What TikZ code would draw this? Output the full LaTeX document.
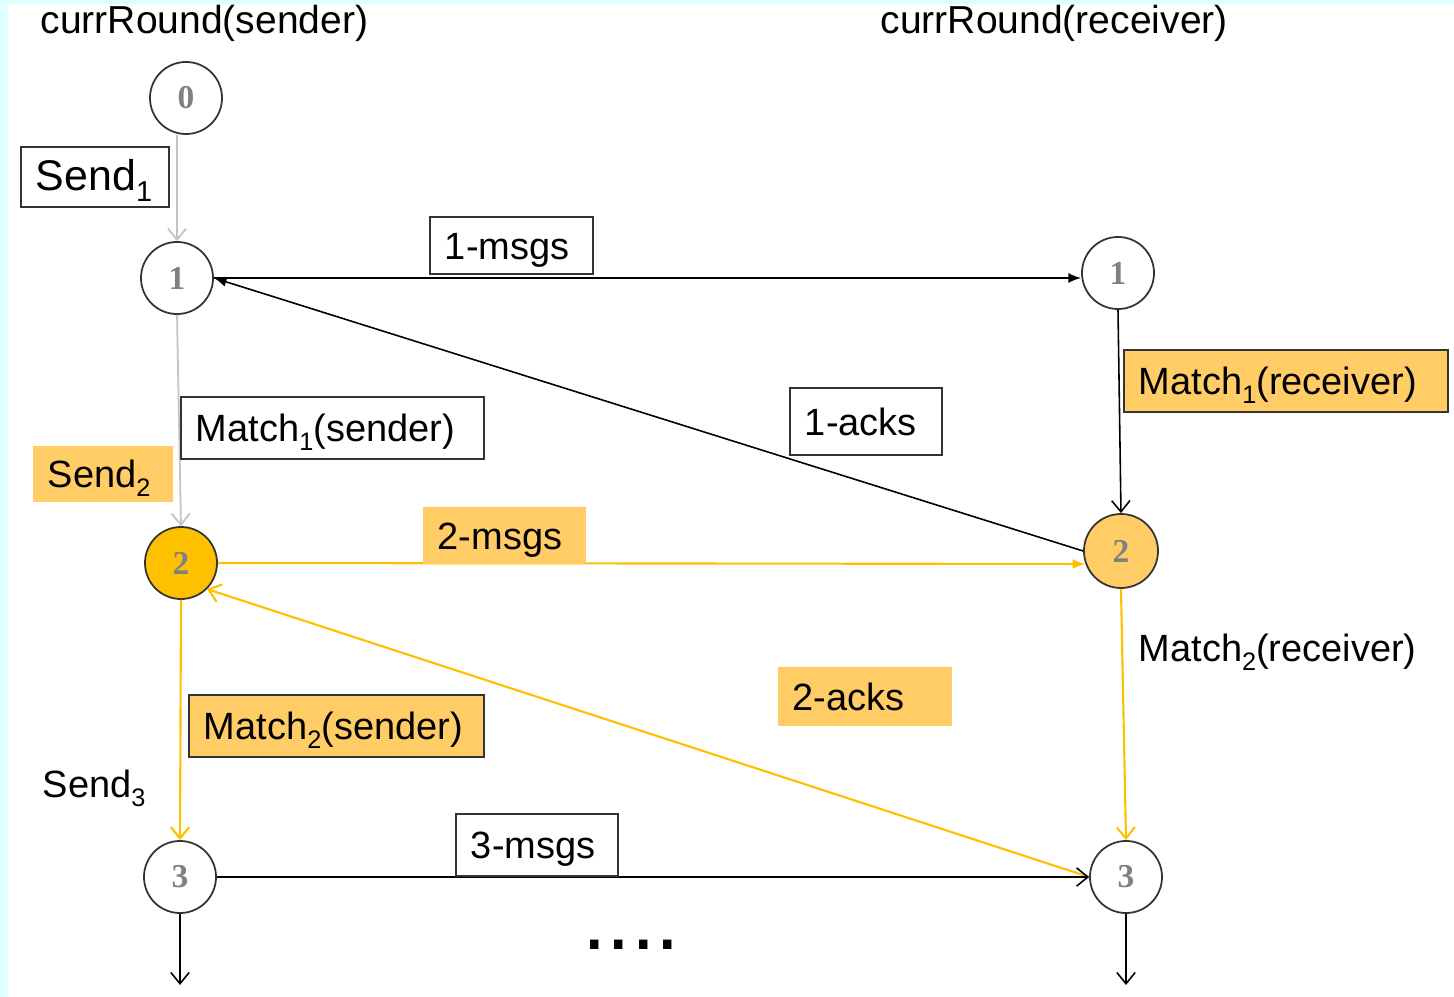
\documentclass[tikz,border=0pt]{standalone}
\usepackage{fontspec}
\setmainfont{Liberation Sans}
\newfontfamily\numfont{Liberation Serif}
\usetikzlibrary{arrows.meta}
\definecolor{gold}{HTML}{FFC000}
\definecolor{paleGold}{HTML}{FFCC66}
\definecolor{edgeGray}{HTML}{C4C4C4}
\definecolor{frameCyan}{HTML}{E0FFFF}
\definecolor{numGray}{HTML}{808080}
\newcommand\lowidx[1]{\raisebox{-0.45ex}{\fontsize{7.2}{8}\selectfont #1}}
\begin{document}
\begin{tikzpicture}[x=0.01cm,y=-0.01cm,
  lbl/.style={font=\fontsize{10.8}{13}\selectfont},
  round/.style={circle, draw=black!80, line width=0.5pt, minimum size=0.72cm,
    inner sep=0, font=\numfont\bfseries\fontsize{9.5}{11}\selectfont, text=numGray},
  tagbox/.style={rectangle, anchor=north west, inner xsep=0.15cm, inner ysep=0,
    align=left, text height=0.8em, text depth=0pt, lbl},
  framed/.style={tagbox, draw=black!80, line width=0.5pt},
  plain/.style={anchor=west, inner sep=0, lbl},
  heading/.style={plain, font=\fontsize{11.1}{13}\selectfont},
  filled/.style={-{Latex[length=3.6pt,width=2.8pt]}},
  open/.style={-{Straight Barb[length=3.2pt,width=5.2pt]}},
  wire/.style={line width=0.45pt, black},
  graywire/.style={line width=0.5pt, edgeGray},
  goldwire/.style={line width=0.6pt, gold}]

% page and frame
\fill[white] (0,0) rectangle (1454,997);
\fill[frameCyan] (0,0) rectangle (1454,4);
\fill[frameCyan] (0,0) rectangle (8,997);
\useasboundingbox (0,0) rectangle (1454,997);

% column headings
\node[heading] (hs) at (40,23) {currRound(sender)};
\node[heading] (hr) at (880,23) {currRound(receiver)};

% rounds of the sender and the receiver
\node[round] (c0)  at (186,98)  {0};
\node[round] (c1s) at (177,278) {1};
\node[round] (c1r) at (1118,273) {1};
\node[round, fill=gold] (c2s) at (181,563) {2};
\node[round, fill=paleGold, minimum size=0.74cm] (c2r) at (1121,551) {2};
\node[round] (c3s) at (180,877) {3};
\node[round] (c3r) at (1126,877) {3};
\coordinate (e3s) at (180,985);
\coordinate (e3r) at (1126,985);

% connectors
\draw[graywire, open] (c0.south -| c1s) -- (c1s.north);
\draw[wire, filled] (c1s.east) -- (c1s.east -| c1r.west);
\draw[wire, filled] (c2r.west) -- (c1s.east);
\draw[wire, open] (c1r.south) -- (c2r.north);
\draw[graywire, open] (c1s.south) -- (c2s.north);
\draw[goldwire, filled] (c2s.east) -- (c2r.200);
\draw[goldwire, open] (c2r.south) -- (c3r.north);
\draw[goldwire, open] (c3r.west) -- (c2s.-45);
\draw[goldwire, open] (c2s.south) -- (c3s.north);
\draw[wire, open] (c3s.east) -- (c3r.west);
\draw[wire, open] (c3s.south) -- (e3s);
\draw[wire, open] (c3r.south) -- (e3r);

% labels
\node[framed, text width=1.18cm, minimum height=0.60cm,
  font=\fontsize{12.2}{14}\selectfont] (send1) at (20,146)
  {Send\raisebox{-0.45ex}{\fontsize{8.2}{9}\selectfont 1}};
\node[framed, text width=1.33cm, minimum height=0.57cm] (m1) at (429,216) {1-msgs};
\node[framed, fill=paleGold, text width=2.94cm, minimum height=0.62cm] (match1r) at (1123,349) {Match\lowidx{1}(receiver)};
\node[framed, text width=1.22cm, minimum height=0.67cm] (a1) at (789,387) {1-acks};
\node[framed, text width=2.73cm, minimum height=0.62cm] (match1s) at (180,396) {Match\lowidx{1}(sender)};
\node[tagbox, fill=paleGold, text width=1.10cm, minimum height=0.56cm] (send2) at (32,445) {Send\lowidx{2}};
\node[tagbox, fill=paleGold, text width=1.33cm, minimum height=0.57cm] (m2) at (422,506) {2-msgs};
\node[tagbox, fill=paleGold, text width=1.44cm, minimum height=0.59cm] (a2) at (777,666) {2-acks};
\node[framed, fill=paleGold, text width=2.65cm, minimum height=0.62cm] (match2s) at (188,694) {Match\lowidx{2}(sender)};
\node[framed, text width=1.32cm, minimum height=0.62cm] (m3) at (455,813) {3-msgs};
\node[plain] (match2r) at (1138,652) {Match\lowidx{2}(receiver)};
\node[plain] (send3) at (42,788) {Send\lowidx{3}};
\node[inner sep=0, font=\fontsize{25}{28}\selectfont] (more) at (631,945) {....};
\end{tikzpicture}
\end{document}
